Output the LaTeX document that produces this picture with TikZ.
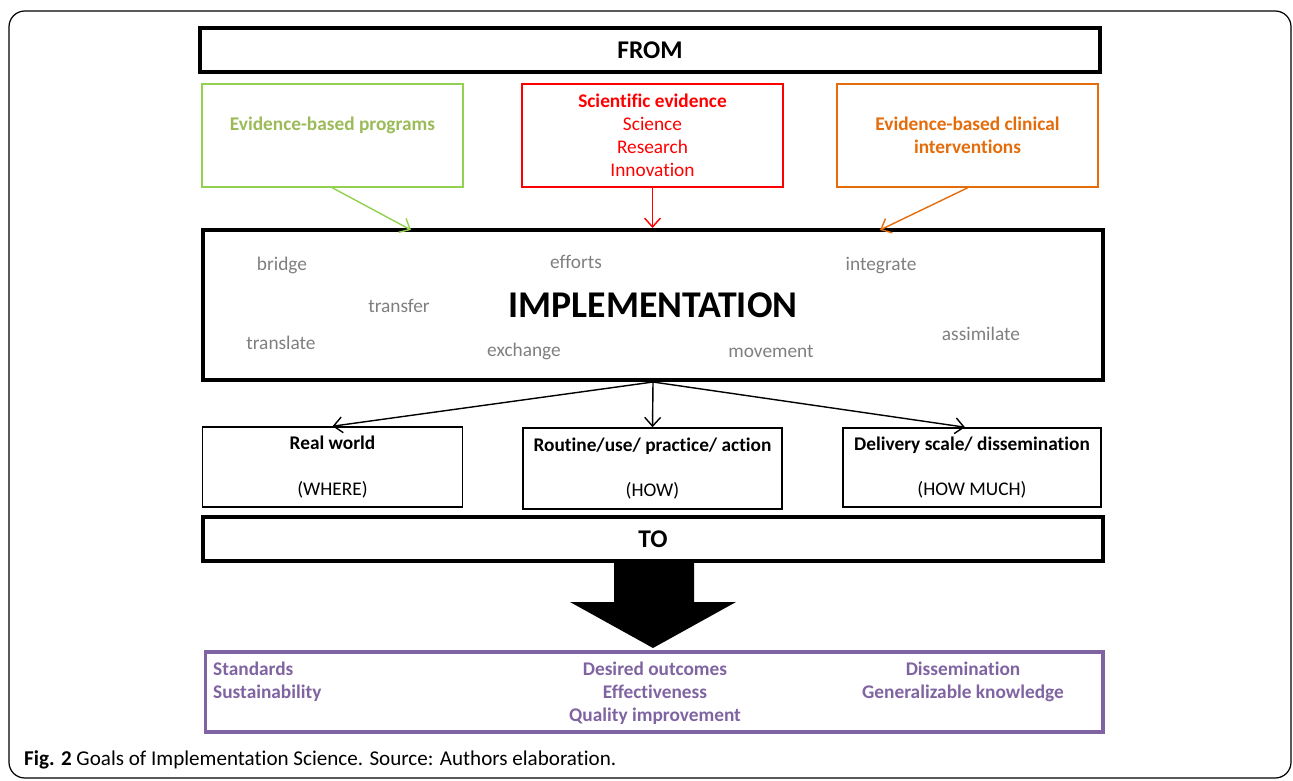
\documentclass[tikz,border=0pt]{standalone}
\usepackage{fontspec}
\setmainfont[Ligatures={NoCommon,NoContextual,NoRequired},Contextuals=NoAlternate]{Carlito}
\usetikzlibrary{arrows.meta}
\definecolor{progGreen}{HTML}{92D050}
\definecolor{progText}{HTML}{9BBB59}
\definecolor{sciRed}{HTML}{FF0000}
\definecolor{clinOrange}{HTML}{E46C0A}
\definecolor{goalPurple}{HTML}{8064A2}
\definecolor{wordGray}{HTML}{7F7F7F}
\begin{document}
\begin{tikzpicture}[x=0.02cm,y=-0.02cm]
        \tikzset{
            band/.style={draw, line width=2.3pt, minimum width=18cm, minimum height=0.88cm, font=\fontsize{14.5}{16}\selectfont\bfseries},
            src/.style={draw, line width=1pt, minimum width=5.22cm, minimum height=2.06cm, align=center, font=\fontsize{11}{13}\selectfont},
            aim/.style={draw, line width=0.9pt, minimum width=5.2cm, minimum height=1.6cm, align=center, font=\fontsize{11}{13}\selectfont},
            word/.style={text=wordGray, font=\fontsize{11}{13}\selectfont},
            goaltext/.style={text=goalPurple, font=\fontsize{11}{13}\selectfont\bfseries},
            feed/.style={-{Straight Barb[length=5pt,width=9pt]}, line width=0.8pt}
            }

            \useasboundingbox (0,0) rectangle (1293,780);
            \draw[line width=0.7pt, rounded corners=9pt] (9,11) rectangle (1291,778);

            % FROM
            \node[band] (from) at (650,50) {FROM};
            \node[src, draw=progGreen, text=progText, font=\fontsize{11}{13}\selectfont\bfseries] (prog) at (332.5,135.5) {Evidence-based programs\\~};
            \node[src, draw=sciRed, text=sciRed] (sci) at (652.5,135.5) {\textbf{Scientific evidence}\\Science\\Research\\Innovation};
            \node[src, draw=clinOrange, text=clinOrange, font=\fontsize{11}{13}\selectfont\bfseries] (clin) at (967.5,135.5) {Evidence-based clinical\\interventions};

            % IMPLEMENTATION
            \node[band, minimum height=3cm, font=\fontsize{21.5}{24}\selectfont\bfseries] (impl) at (653,305) {IMPLEMENTATION};
            \node[word] (w1) at (282,265) {bridge};
            \node[word] (w2) at (576,262) {efforts};
            \node[word] (w3) at (881,266) {integrate};
            \node[word] (w4) at (399,306) {transfer};
            \node[word] (w5) at (281,343) {translate};
            \node[word] (w6) at (524,351) {exchange};
            \node[word] (w7) at (771,351) {movement};
            \node[word] (w8) at (981,334) {assimilate};

            \coordinate (progIn) at (411,230);
            \coordinate (clinIn) at (880,230);
            \draw[feed, progGreen] (prog.south) -- (progIn);
            \draw[feed, sciRed] (sci.south) -- (impl.north -| sci.south);
            \draw[feed, clinOrange] (clin.south) -- (clinIn);

            % where / how / how much
            \node[aim] (world) at (332.5,467) {\textbf{Real world}\\[13pt](WHERE)};
            \node[aim, minimum width=5.18cm, minimum height=1.62cm] (routine) at (652.5,468.5) {\textbf{Routine/use/ practice/ action}\\[13pt](HOW)};
            \node[aim, minimum width=5.16cm, minimum height=1.58cm] (deliv) at (972,467.5) {\textbf{Delivery scale/ dissemination}\\[13pt](HOW MUCH)};

            \draw[feed] (impl.south) -- (world.north);
            \draw[feed] (impl.south) -- (routine.north);
            \draw[feed] (impl.south) -- ([xshift=-4pt]deliv.north);

            % TO
            \node[band] (to) at (653,539) {TO};
            \fill (614,561) -- (694,561) -- (694,602) -- (736,602) -- (653,648) -- (570,602) -- (614,602) -- cycle;

            \node[draw=goalPurple, line width=1.8pt, minimum width=17.96cm, minimum height=1.6cm] (goals) at (654,692) {};
            \node[goaltext, anchor=west, align=left] (g1) at (207,681.5) {Standards\\Sustainability};
            \node[goaltext, align=center] (g2) at (655,693) {Desired outcomes\\Effectiveness\\Quality improvement};
            \node[goaltext, align=center] (g3) at (963,681.5) {Dissemination\\Generalizable knowledge};

            \node[anchor=west, font=\fontsize{12}{14}\selectfont] (cap) at (18,760) {\textbf{Fig. 2} Goals of Implementation Science. Source: Authors elaboration.};
        \end{tikzpicture}
\end{document}
